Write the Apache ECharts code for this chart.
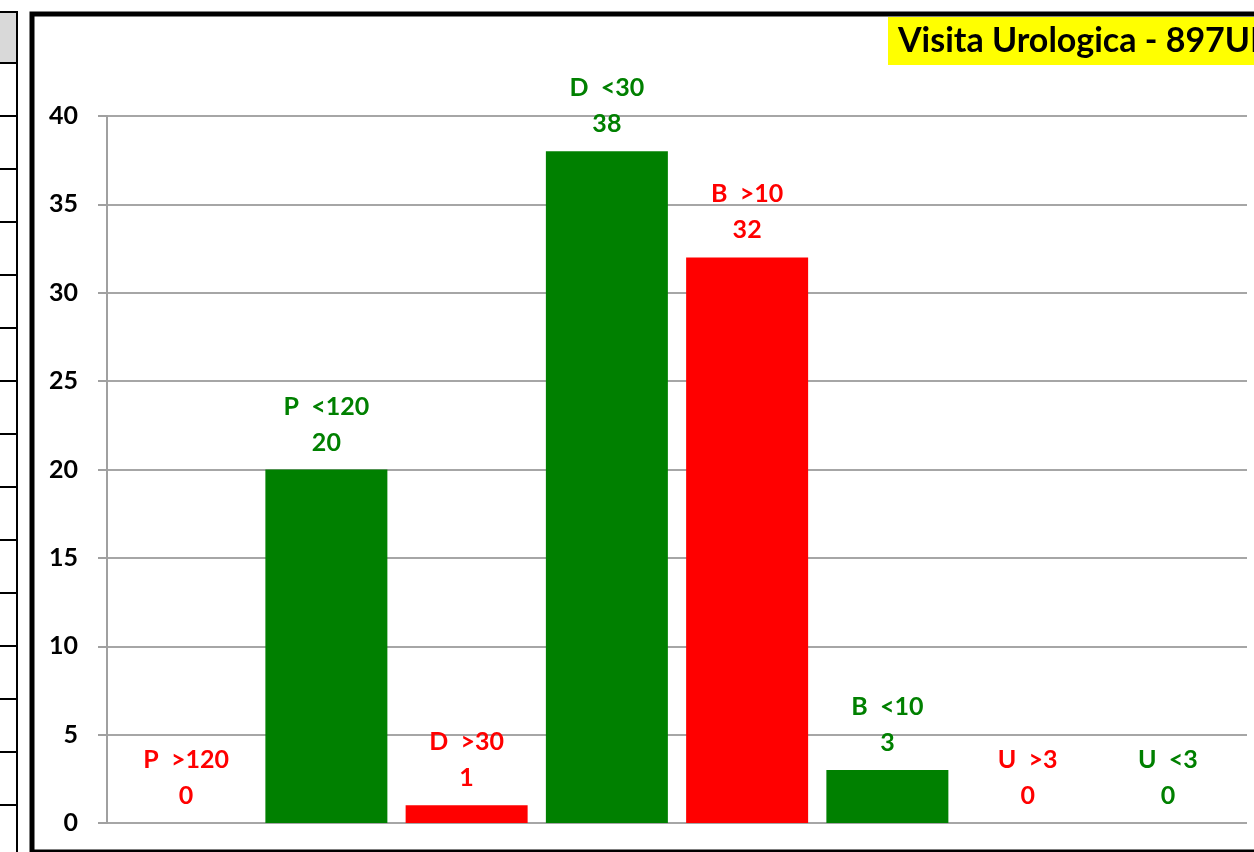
<!DOCTYPE html>
<html>
<head>
<meta charset="utf-8">
<script src="https://cdn.jsdelivr.net/npm/echarts@6/dist/echarts.min.js"></script>
<style>
  html, body { margin: 0; padding: 0; background: #fff; }
  #main { width: 1254px; height: 852px; }
</style>
</head>
<body>
<div id="main"></div>
<script>
// chart data
var categories = ['P  >120', 'P  <120', 'D  >30', 'D  <30', 'B  >10', 'B  <10', 'U  >3', 'U  <3'];
var values = [0, 20, 1, 38, 32, 3, 0, 0];
var yTicks = [0, 5, 10, 15, 20, 25, 30, 35, 40];
var titleText = 'Visita Urologica - 897UI';

var FONT = 'Lato, "Open Sans", sans-serif';

function colorOf(cat) {
  // ">" = oltre soglia (rosso), "<" = entro soglia (verde)
  return cat.indexOf('>') >= 0 ? '#ff0000' : '#008000';
}

var barData = values.map(function (v, i) {
  var c = colorOf(categories[i]);
  return { value: v, itemStyle: { color: c }, label: { color: c } };
});

// left strip of the sheet table (decoration only)
var strip = [
  { type: 'rect', shape: { x: 0, y: 12, width: 17, height: 51 }, style: { fill: '#d9d9d9' } },
  { type: 'line', shape: { x1: 0, y1: 12, x2: 18, y2: 12 }, style: { stroke: '#000', lineWidth: 2 } },
  { type: 'line', shape: { x1: 17, y1: 12, x2: 17, y2: 852 }, style: { stroke: '#000', lineWidth: 2 } }
];
for (var yy = 63; yy < 852; yy += 53) {
  strip.push({ type: 'line', shape: { x1: 0, y1: yy, x2: 17, y2: yy }, style: { stroke: '#000', lineWidth: 2 } });
}

var myChart = echarts.init(document.getElementById('main'));
var option = {
  animation: false,
  backgroundColor: '#fff',
  grid: [
    { left: 107, right: 7, top: 116, bottom: 29 },
    { left: 116, right: 16, top: 116, bottom: 29 }
  ],
  xAxis: [
    { gridIndex: 0, type: 'category', data: categories, axisLine: { show: false }, axisTick: { show: false }, axisLabel: { show: false } },
    { gridIndex: 1, type: 'category', data: categories, show: false }
  ],
  yAxis: [
    {
      gridIndex: 0, type: 'value', min: yTicks[0], max: yTicks[yTicks.length - 1], interval: 5,
      axisLine: { show: true, lineStyle: { color: '#a0a0a0', width: 2 } },
      axisTick: { show: true, length: 9, lineStyle: { color: '#a0a0a0', width: 2 } },
      axisLabel: { margin: 29, color: '#000', fontSize: 25, fontWeight: 'bold', fontFamily: FONT },
      splitLine: { lineStyle: { color: '#a6a6a6', width: 2 } }
    },
    { gridIndex: 1, type: 'value', min: 0, max: 40, show: false, splitLine: { show: false } }
  ],
  series: [{
    type: 'bar',
    xAxisIndex: 1,
    yAxisIndex: 1,
    barWidth: 122,
    data: barData,
    label: {
      show: true,
      position: 'top',
      distance: 9,
      formatter: '{b}\n{c}',
      fontSize: 25,
      fontWeight: 'bold',
      fontFamily: FONT,
      lineHeight: 36,
      align: 'center'
    }
  }],
  graphic: strip.concat([
    { type: 'rect', shape: { x: 32, y: 14, width: 1240, height: 838 }, style: { fill: 'none', stroke: '#000', lineWidth: 5 }, z: 10 },
    {
      type: 'text', left: 888, top: 17, z: 11,
      style: {
        text: titleText, fill: '#000', font: 'bold 34px ' + FONT,
        backgroundColor: '#ffff00', padding: [7, 10, 7, 10]
      }
    }
  ])
};
myChart.setOption(option);
window.onresize = myChart.resize;
</script>
</body>
</html>
